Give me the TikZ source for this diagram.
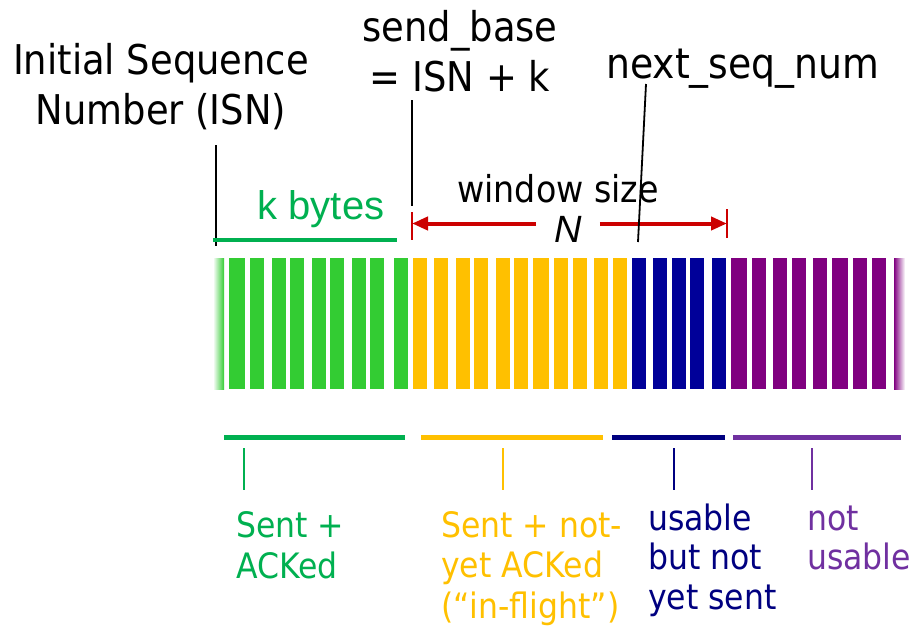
\documentclass[tikz,border=0pt]{standalone}
\usepackage{fontspec}
\setmainfont{DejaVu Sans}[FakeStretch=0.9]
\newfontfamily\arialish{Liberation Sans}
\usetikzlibrary{arrows.meta}

\definecolor{barG}{HTML}{33CC33}
\definecolor{barY}{HTML}{FFC000}
\definecolor{barB}{HTML}{000099}
\definecolor{barP}{HTML}{800080}
\definecolor{txtG}{HTML}{00B050}
\definecolor{txtB}{HTML}{000080}
\definecolor{txtP}{HTML}{7030A0}
\definecolor{winRed}{HTML}{CC0000}

\tikzset{
  ptr/.style={draw=black, line width=1.8pt},
  seg/.style={line width=5pt},
  lbltick/.style={line width=2pt},
  redline/.style={draw=winRed, line width=4pt},
  redtick/.style={draw=winRed, line width=2.4pt},
  bigtxt/.style={inner sep=0pt, font=\fontsize{41}{50}\selectfont},
  labtxt/.style={inner sep=0pt, align=left, anchor=base west},
}

\begin{document}
\begin{tikzpicture}[x=1pt,y=-1pt]
\useasboundingbox (0,0) rectangle (916,627);

% ---- byte strip: one stripe per byte ----
\def\yt{258}\def\yb{389}
\shade[left color=white, right color=barG] (213,\yt) rectangle (224,\yb);
\foreach \a/\b in {229/245,250/264,272/286,290/304,312/326,330/344,352/366,370/384,394/408}
  \fill[barG] (\a,\yt) rectangle (\b,\yb);
\foreach \a/\b in {413/427,434/448,456/470,474/488,496/510,514/528,533/549,554/568,573/587,594/608,613/627}
  \fill[barY] (\a,\yt) rectangle (\b,\yb);
\foreach \a/\b in {632/646,653/667,672/686,690/704,712/726}
  \fill[barB] (\a,\yt) rectangle (\b,\yb);
\foreach \a/\b in {731/747,752/766,773/787,792/806,813/827,832/848,853/867,872/886}
  \fill[barP] (\a,\yt) rectangle (\b,\yb);
\shade[left color=barP, right color=white] (894,\yt) rectangle (905,\yb);

% ---- pointer labels above the strip (base anchor = last line) ----
\node[bigtxt, align=center, anchor=base] (isn) at (161,124) {Initial Sequence\\Number (ISN)};
\node[bigtxt, align=center, anchor=base] (sbase) at (460,91) {send\_base\\= ISN + k};
\node[inner sep=0pt, anchor=base west, font=\fontsize{42}{50}\selectfont] (nsn) at (606,78) {next\_seq\_num};

\coordinate (isnTop) at (216,145);  \coordinate (isnBot) at (216,246);
\coordinate (sbTop)  at (412,100);  \coordinate (sbBot)  at (412,206);
\coordinate (nsTop)  at (646,84);   \coordinate (nsBot)  at (638,242);
\draw[ptr] (isnTop) -- (isnBot);
\draw[ptr] (sbTop) -- (sbBot);

% ---- k bytes span ----
\coordinate (kL) at (213,240); \coordinate (kR) at (397,240);
\draw[txtG, line width=4pt] (kL) -- (kR);
\node[inner sep=0pt, anchor=base, text=txtG, font=\arialish\fontsize{40}{48}\selectfont] (kbytes) at (321,219) {k bytes};

% ---- window size N ----
\node[inner sep=0pt, anchor=base, font=\fontsize{37}{44}\selectfont] (wsize) at (558,202) {window size};
\node[inner ysep=0pt, inner xsep=18pt, anchor=base, font=\arialish\itshape\fontsize{38}{44}\selectfont] (wn) at (568,242) {N};
\coordinate (wL) at (412,223.5); \coordinate (wR) at (727,223.5);
\coordinate (wLt) at (412,212); \coordinate (wLb) at (412,240);
\coordinate (wRt) at (727,209); \coordinate (wRb) at (727,238);
\draw[redtick] (wLt) -- (wLb);
\draw[redtick] (wRt) -- (wRb);
\draw[redline, -{Triangle[length=16pt,width=13pt]}] (wn.west |- wL) -- (wL);
\draw[redline, -{Triangle[length=16pt,width=13pt]}] (wn.east |- wR) -- (wR);

\draw[ptr] (nsTop) -- (nsBot);

% ---- region brackets below the strip ----
\draw[seg, txtG]  (224,437) -- (405,437);
\draw[seg, barY]  (421,437) -- (603,437);
\draw[seg, txtB]  (612,437) -- (725,437);
\draw[seg, txtP]  (733,437) -- (901,437);

\coordinate (gT) at (244,448); \coordinate (gB) at (244,490);
\coordinate (yT) at (503,448); \coordinate (yB) at (503,490);
\coordinate (bT) at (674,448); \coordinate (bB) at (674,490);
\coordinate (pT) at (812,448); \coordinate (pB) at (812,490);
\draw[lbltick, txtG] (gT) -- (gB);
\draw[lbltick, barY] (yT) -- (yB);
\draw[lbltick, txtB] (bT) -- (bB);
\draw[lbltick, txtP] (pT) -- (pB);

\node[labtxt, text=txtG, font=\fontsize{35}{41}\selectfont] (lacked) at (236,578) {Sent +\\ACKed};
\node[labtxt, text=barY, font=\fontsize{35}{40.5}\selectfont] (lflight) at (441,618) {Sent + not-\\yet ACKed\\(“in-flight”)};
\node[labtxt, text=txtB, font=\fontsize{35}{39.5}\selectfont] (lusable) at (648,609) {usable\\but not\\yet sent};
\node[labtxt, text=txtP, font=\fontsize{35}{39.5}\selectfont] (lnot) at (807,569.5) {not\\usable};
\end{tikzpicture}
\end{document}
